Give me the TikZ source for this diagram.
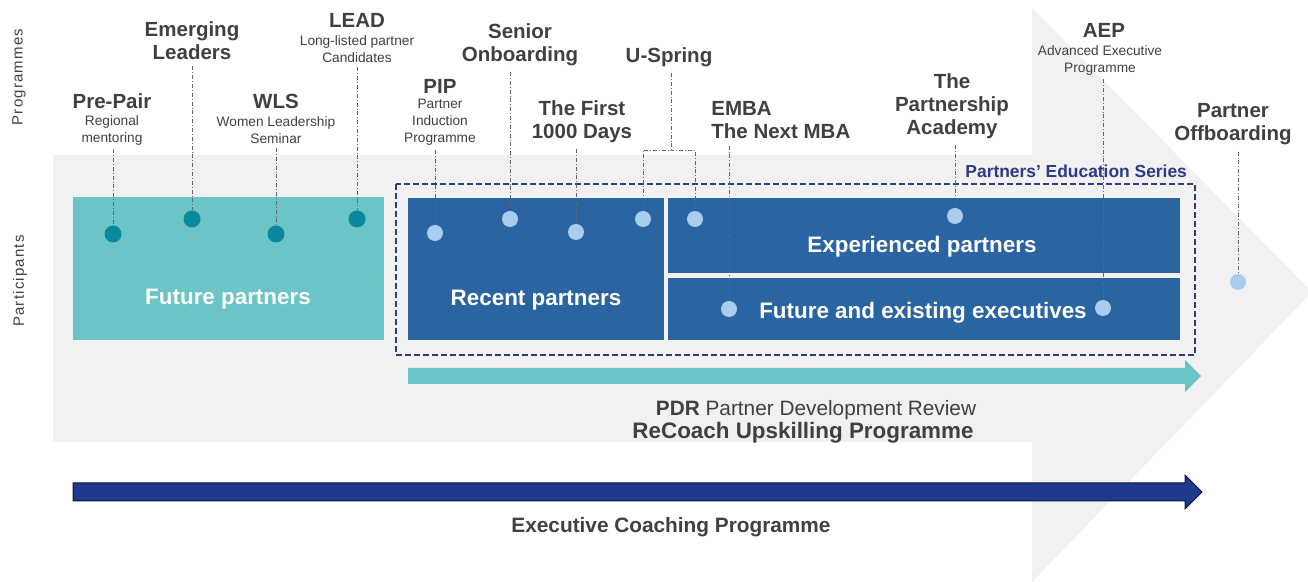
\documentclass[tikz,border=0pt]{standalone}
\usepackage{fontspec}
\setmainfont{Liberation Sans}
\newfontfamily\spacedfont[LetterSpace=8]{Liberation Sans}
\definecolor{bggrey}{HTML}{F1F1F1}
\definecolor{tealbox}{HTML}{6BC4C6}
\definecolor{tealdot}{HTML}{0B899C}
\definecolor{bluebox}{HTML}{2A64A2}
\definecolor{lightdot}{HTML}{A9CDEE}
\definecolor{navy}{HTML}{2C3A88}
\definecolor{arrownavy}{HTML}{1F3A8C}
\definecolor{textgrey}{HTML}{404040}
\definecolor{linkgrey}{HTML}{666666}

\begin{document}
\begin{tikzpicture}[x=0.5pt,y=-0.5pt,
  title/.style={font=\fontsize{10.25}{11.5}\selectfont\bfseries,text=textgrey,align=center,inner sep=3pt},
  subtitle/.style={font=\fontsize{6.85}{8.5}\selectfont,text=textgrey,align=center,inner sep=2pt},
  side/.style={font=\fontsize{7.5}{9}\selectfont\spacedfont,text=textgrey,rotate=90},
  band/.style={font=\fontsize{10.4}{12}\selectfont,text=textgrey},
  box/.style={inner sep=0pt,outer sep=0pt},
  boxtext/.style={font=\fontsize{11.2}{13}\selectfont\bfseries,text=white},
  tdot/.style={circle,fill=tealdot,minimum size=8.5pt,inner sep=0pt},
  ldot/.style={circle,fill=lightdot,minimum size=8pt,inner sep=0pt},
  link/.style={draw=linkgrey,line width=0.35pt,dash pattern=on 2pt off 1pt on 0.4pt off 1pt}]
\useasboundingbox (0,0) rectangle (1308,582);
\fill[bggrey] (53,155) rectangle (1032,442);
\fill[bggrey] (1032,8) -- (1312,292) -- (1032,582) -- cycle;

\node[side] (programmes) at (19,77) {Programmes};
\node[side] (participants) at (20,281) {Participants};

\node[box,fill=tealbox,minimum width=155.5pt,minimum height=71.5pt] (future) at (228.5,268.5) {};
\node[box,fill=bluebox,minimum width=128pt,minimum height=71pt] (recent) at (536,269) {};
\node[box,fill=bluebox,minimum width=256pt,minimum height=37.5pt] (experienced) at (924,235.5) {};
\node[box,fill=bluebox,minimum width=256pt,minimum height=31pt] (executives) at (924,309) {};
\draw[navy,line width=0.75pt,dash pattern=on 3pt off 1.5pt] (396,184) rectangle (1195,355);

\node[boxtext] (futuretext) at (228,299) {Future partners};
\node[boxtext] (recenttext) at (536,300) {Recent partners};
\node[boxtext] (experiencedtext) at (922,247) {Experienced partners};
\node[boxtext] (executivestext) at (923,313) {Future and existing executives};
\node[font=\fontsize{8.7}{10}\selectfont\bfseries,text=navy,anchor=east] (series) at (1194,171) {Partners' Education Series};

\node[title] (prepair) at (112,101) {Pre-Pair};
\node[subtitle] (prepairsub) at (112,130) {Regional\\mentoring};
\node[title] (emerging) at (192,41) {Emerging\\Leaders};
\node[title] (wls) at (276,101) {WLS};
\node[subtitle] (wlssub) at (276,130) {Women Leadership\\Seminar};
\node[title] (lead) at (357,20) {LEAD};
\node[subtitle] (leadsub) at (357,49.5) {Long-listed partner\\Candidates};
\node[title] (pip) at (440,86) {PIP};
\node[subtitle] (pipsub) at (440,122.5) {Partner\\Induction\\Programme};
\node[title] (senior) at (520,44.5) {Senior\\Onboarding};
\node[title] (uspring) at (669,57) {U-Spring};
\node[title] (first) at (582,121.5) {The First\\1000 Days};
\node[title,align=left,anchor=west] (emba) at (705,120.5) {EMBA\\The Next MBA};
\node[title] (academy) at (952,106) {The\\Partnership\\Academy};
\node[title] (aep) at (1104,30) {AEP};
\node[subtitle] (aepsub) at (1100,60) {Advanced Executive\\Programme};
\node[title] (offboard) at (1233,124.5) {Partner\\Offboarding};

\node[tdot] (prepairdot) at (113,234) {};
\node[tdot] (emergingdot) at (192,219) {};
\node[tdot] (wlsdot) at (276,234) {};
\node[tdot] (leaddot) at (357,219) {};
\node[ldot] (pipdot) at (435,233) {};
\node[ldot] (seniordot) at (510,219) {};
\node[ldot] (firstdot) at (576,232) {};
\node[ldot] (uspringdota) at (643,219) {};
\node[ldot] (uspringdotb) at (695,219) {};
\node[ldot] (academydot) at (955,216) {};
\node[ldot] (embadot) at (729,309) {};
\node[ldot] (aepdot) at (1103,308) {};
\node[ldot] (offboarddot) at (1238,282) {};
\coordinate (ubrace) at (671,150);

\draw[link] (prepairsub.south -| prepairdot) -- (prepairdot);
\draw[link] (emerging.south -| emergingdot) -- (emergingdot);
\draw[link] (wlssub.south -| wlsdot) -- (wlsdot);
\draw[link] (leadsub.south -| leaddot) -- (leaddot);
\draw[link] (pipsub.south -| pipdot) -- (pipdot);
\draw[link] (senior.south -| seniordot) -- (seniordot);
\draw[link] (first.south -| firstdot) -- (firstdot);
\draw[link] (uspring.south -| ubrace) -- (ubrace);
\draw[link] (uspringdota) |- (ubrace) -| (uspringdotb);
\draw[link] (emba.south -| embadot) -- (embadot);
\draw[link] (academy.south -| academydot) -- (academydot);
\draw[link] (aepsub.south -| aepdot) -- (aepdot);
\draw[link] (offboard.south -| offboarddot) -- (offboarddot);

\fill[tealbox] (408,368) -- (1185,368) -- (1185,360) -- (1201,376) -- (1185,392) -- (1185,384) -- (408,384) -- cycle;
\filldraw[fill=arrownavy,draw=black!60!arrownavy,line width=0.5pt] (73,483) -- (1185,483) -- (1185,475) -- (1202,492) -- (1185,509) -- (1185,501) -- (73,501) -- cycle;

\node[band] (pdr) at (816,410) {\textbf{PDR} Partner Development Review};
\node[band,font=\fontsize{11.2}{13}\selectfont\bfseries] (recoach) at (803,433) {ReCoach Upskilling Programme};
\node[band,font=\fontsize{10.4}{12}\selectfont\bfseries] (coaching) at (671,527) {Executive Coaching Programme};
\end{tikzpicture}
\end{document}
